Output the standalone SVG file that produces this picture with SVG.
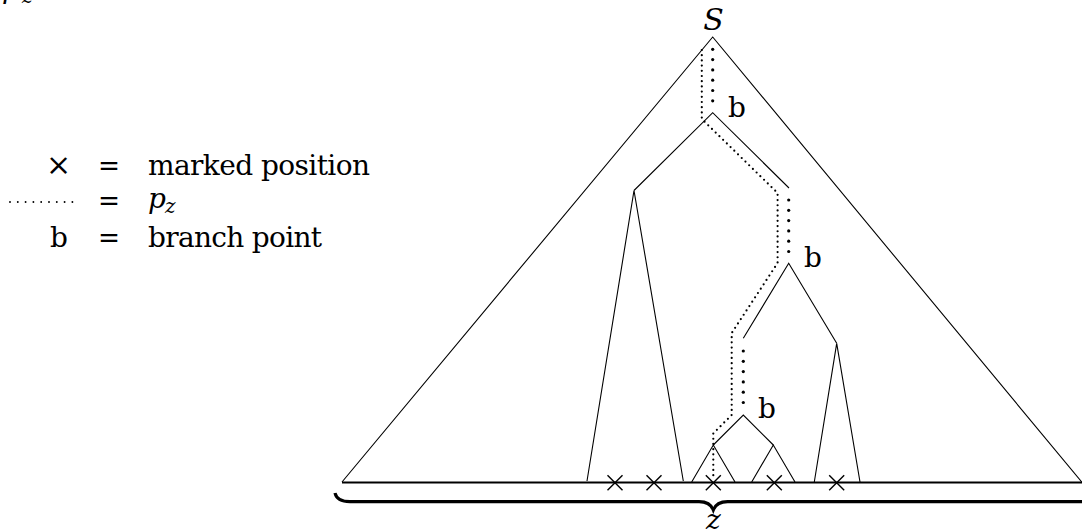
<svg xmlns="http://www.w3.org/2000/svg" width="1082" height="531" viewBox="0 0 1082 531">
<style>
.t{font-family:'DejaVu Serif',serif;font-size:28px;fill:#000}
.it{font-style:italic}
.sub{font-size:20px}
.ln{fill:none;stroke:#000;stroke-width:1.1;stroke-linejoin:miter}
.base{fill:none;stroke:#000;stroke-width:2}
.brace{fill:none;stroke:#000;stroke-width:3.2;stroke-linecap:butt}
.pz{fill:none;stroke:#000;stroke-width:2.2;stroke-linecap:round;stroke-dasharray:0 5.2}
.big{fill:#000}
.x{stroke:#000;stroke-width:1.4}
</style>
<defs>
<g id="cross"><line class="x" x1="-7.5" y1="-7.5" x2="7.5" y2="7.5"/><line class="x" x1="-7.5" y1="7.5" x2="7.5" y2="-7.5"/></g>
<g id="vdots"><circle class="big" cx="0" cy="0" r="1.6"/><circle class="big" cx="0" cy="10.3" r="1.6"/><circle class="big" cx="0" cy="20.6" r="1.6"/><circle class="big" cx="0" cy="30.9" r="1.6"/><circle class="big" cx="0" cy="41.2" r="1.6"/><circle class="big" cx="0" cy="51.5" r="1.6"/></g>
</defs>
<rect width="1082" height="531" fill="#fff"/>

<g id="caption-cut">
<text class="t it" x="2" y="-2">p</text><text class="t it sub" x="22" y="3">z</text>
</g>

<g id="legend">
<text class="t" x="58.5" y="175" text-anchor="middle" style="font-size:30px">×</text>
<text class="t" x="98" y="175" textLength="22" lengthAdjust="spacingAndGlyphs">=</text>
<text class="t" x="148" y="175" textLength="222" lengthAdjust="spacing">marked position</text>
<line class="pz" x1="10" y1="202" x2="73" y2="202" style="stroke-dasharray:0 7.8;stroke-width:1.9"/>
<text class="t" x="98" y="210" textLength="22" lengthAdjust="spacingAndGlyphs">=</text>
<text class="t it" x="148" y="208">p</text><text class="t it sub" x="165" y="213">z</text>
<text class="t" x="50" y="247">b</text>
<text class="t" x="98" y="247" textLength="22" lengthAdjust="spacingAndGlyphs">=</text>
<text class="t" x="148" y="247" textLength="174" lengthAdjust="spacing">branch point</text>
</g>

<g id="node-S"><text class="t it" x="713.5" y="30" text-anchor="middle" style="font-size:30px">S</text></g>
<g id="node-b1"><text class="t" x="728" y="117">b</text></g>
<g id="node-b2"><text class="t" x="804" y="267">b</text></g>
<g id="node-b3"><text class="t" x="758" y="418">b</text></g>
<g id="node-z"><text class="t it" x="713.3" y="529" text-anchor="middle">z</text></g>

<g id="connectors">
<path class="ln" d="M342,482 L712.7,37 L1081.7,482"/>
<use href="#vdots" x="712.7" y="49.3"/>
<path class="ln" d="M634,190.5 L712.7,112.7 L789,188"/>
<path class="ln" d="M587,481 L634,190.5 L683.3,481"/>
<use href="#vdots" x="788.7" y="200"/>
<path class="ln" d="M743.3,338.3 L788.7,263.3 L836.7,343.3"/>
<path class="ln" d="M814.3,482 L836.7,343.3 L860,482"/>
<use href="#vdots" x="743.3" y="351"/>
<path class="ln" d="M713.3,445 L743.3,415 L773.3,445"/>
<path class="ln" d="M691.7,482 L713.3,445 L735,482"/>
<path class="ln" d="M751.7,482 L773.3,445 L795,482"/>
<path class="pz" d="M701.8,50 L701.8,119 L777.6,193 L777.6,263 L731.7,333 L731.7,415 L713.3,433.4 L713.3,477"/>
<path class="base" d="M342,482.6 L1082,482.6"/>
<path class="brace" d="M335,493 Q337,501.7 350,501.7 L699,501.7 Q710,501.7 713.3,510 Q716.6,501.7 727.6,501.7 L1082,501.7"/>
</g>

<g id="marks">
<use href="#cross" x="615" y="482.7"/>
<use href="#cross" x="654" y="482.7"/>
<use href="#cross" x="713.3" y="482.7"/>
<use href="#cross" x="774.3" y="482.7"/>
<use href="#cross" x="836.7" y="482.7"/>
</g>
</svg>
